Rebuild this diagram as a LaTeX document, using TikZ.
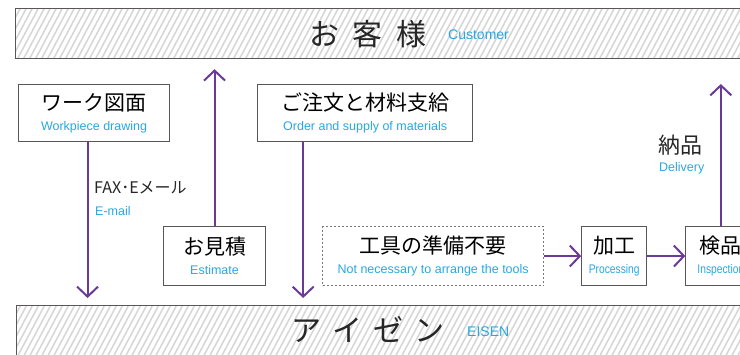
\documentclass[tikz,border=0pt]{standalone}
\usepackage{fontspec}
\setmainfont{Liberation Sans}
\newfontfamily\jpfont{Noto Sans CJK JP}
\usetikzlibrary{arrows.meta,positioning}
\definecolor{eiPurple}{HTML}{6A3A97}
\definecolor{eiBlue}{HTML}{2AA7E1}
\definecolor{eiLine}{HTML}{5A5656}
\definecolor{eiHatch}{HTML}{D6D6D6}
\newcommand{\jpt}[1]{{\jpfont\fontsize{21}{24}\selectfont #1}}
\newcommand{\ent}[1]{{\color{eiBlue}\fontsize{12.5}{15}\selectfont #1}}
\tikzset{
  flowBox/.style={
    draw=eiLine,
    line width=1.1pt,
    fill=white,
    align=center,
    inner sep=0pt,
    font=\fontsize{12.5}{20}\selectfont
  },
  flowDashed/.style={
    flowBox,
    draw=eiLine!80,
    dash pattern=on 2pt off 2pt
  },
  flowArrow/.style={
    -{Straight Barb[length=10pt,width=21pt]},
    line width=2pt,
    draw=eiPurple
  },
  bandBox/.style={
    draw=eiLine,
    line width=1.2pt,
    fill=white,
    minimum width=740pt,
    inner sep=0pt,
    path picture={
      \foreach \k in {0,...,135} {
        \draw[eiHatch, line width=1.5pt]
          ([xshift=\k*6pt-40pt]path picture bounding box.south west) -- ++(34pt,64pt);
      }
    }
  },
  bandTitle/.style={
    font=\jpfont\fontsize{30}{30}\selectfont,
    text=black!85,
    inner sep=0pt
  },
  bandSub/.style={
    font=\fontsize{14}{16}\selectfont,
    text=eiBlue,
    inner sep=0pt
  },
  flowLabel/.style={
    font=\jpfont\fontsize{16}{18}\selectfont,
    text=black!85,
    inner sep=0pt
  },
  flowSub/.style={
    font=\fontsize{12.5}{15}\selectfont,
    text=eiBlue,
    inner sep=0pt
  }
}

\begin{document}
\begin{tikzpicture}[x=1pt, y=-1pt, node distance=37pt]
  \useasboundingbox (0,0) rectangle (740,354);

  \node[bandBox, anchor=north west, minimum height=50pt] (customer) at (15,8) {};
  \node[bandBox, anchor=north west, minimum height=60pt] (eisen) at (16,305) {};
  \node[bandTitle] (customerJa) at (368,34) {お\hspace{14pt}客\hspace{14pt}様};
  \node[bandSub, anchor=west] (customerEn) at (448,35) {Customer};
  \node[bandTitle] (eisenJa) at (368,330) {ア\hspace{11pt}イ\hspace{11pt}ゼ\hspace{11pt}ン};
  \node[bandSub, anchor=west] (eisenEn) at (467,332) {EISEN};

  \node[flowBox, minimum width=151pt, minimum height=57pt, anchor=north west] (work) at (18,84)
    {\jpt{ワーク図面}\\\ent{Workpiece drawing}};
  \node[flowBox, minimum width=215pt, minimum height=57pt, right=87pt of work] (order)
    {\jpt{ご注文と材料支給}\\\ent{Order and supply of materials}};
  \node[flowBox, minimum width=102pt, minimum height=59pt, anchor=north west] (estimate) at (163,226)
    {\jpt{お見積}\\\ent{Estimate}};
  \node[flowDashed, minimum width=221pt, minimum height=59pt, right=56pt of estimate] (tools)
    {\jpt{工具の準備不要}\\\ent{Not necessary to arrange the tools}};
  \node[flowBox, minimum width=65pt, minimum height=59pt, right=of tools] (processing)
    {\jpt{加工}\\\ent{\scalebox{0.82}[1]{Processing}}};
  \node[flowBox, minimum width=70pt, minimum height=59pt, right=38pt of processing] (inspection)
    {\jpt{検品}\\\ent{\scalebox{0.82}[1]{Inspection}}};

  \node[flowLabel, anchor=west] (mailJa) at (94,188) {FAX･Eメール};
  \node[flowSub, anchor=west] (mailEn) at (95,211) {E-mail};
  \node[flowLabel, font=\jpfont\fontsize{22}{24}\selectfont, anchor=west] (deliveryJa) at (658,145) {納品};
  \node[flowSub, anchor=west] (deliveryEn) at (659,168) {Delivery};

  \coordinate (mailStart) at ([xshift=-6.5pt]work.south);
  \coordinate (supplyStart) at ([xshift=-62pt]order.south);

  \draw[flowArrow, shorten >=7pt] (mailStart) -- (mailStart |- eisen.north);
  \draw[flowArrow, shorten >=10pt] (estimate.north) -- (estimate.north |- customer.south);
  \draw[flowArrow, shorten >=7pt] (supplyStart) -- (supplyStart |- eisen.north);
  \draw[flowArrow] (tools) -- (processing);
  \draw[flowArrow] (processing) -- (inspection);
  \draw[flowArrow] (inspection.north) -- (inspection.north |- work.north);
\end{tikzpicture}
\end{document}
